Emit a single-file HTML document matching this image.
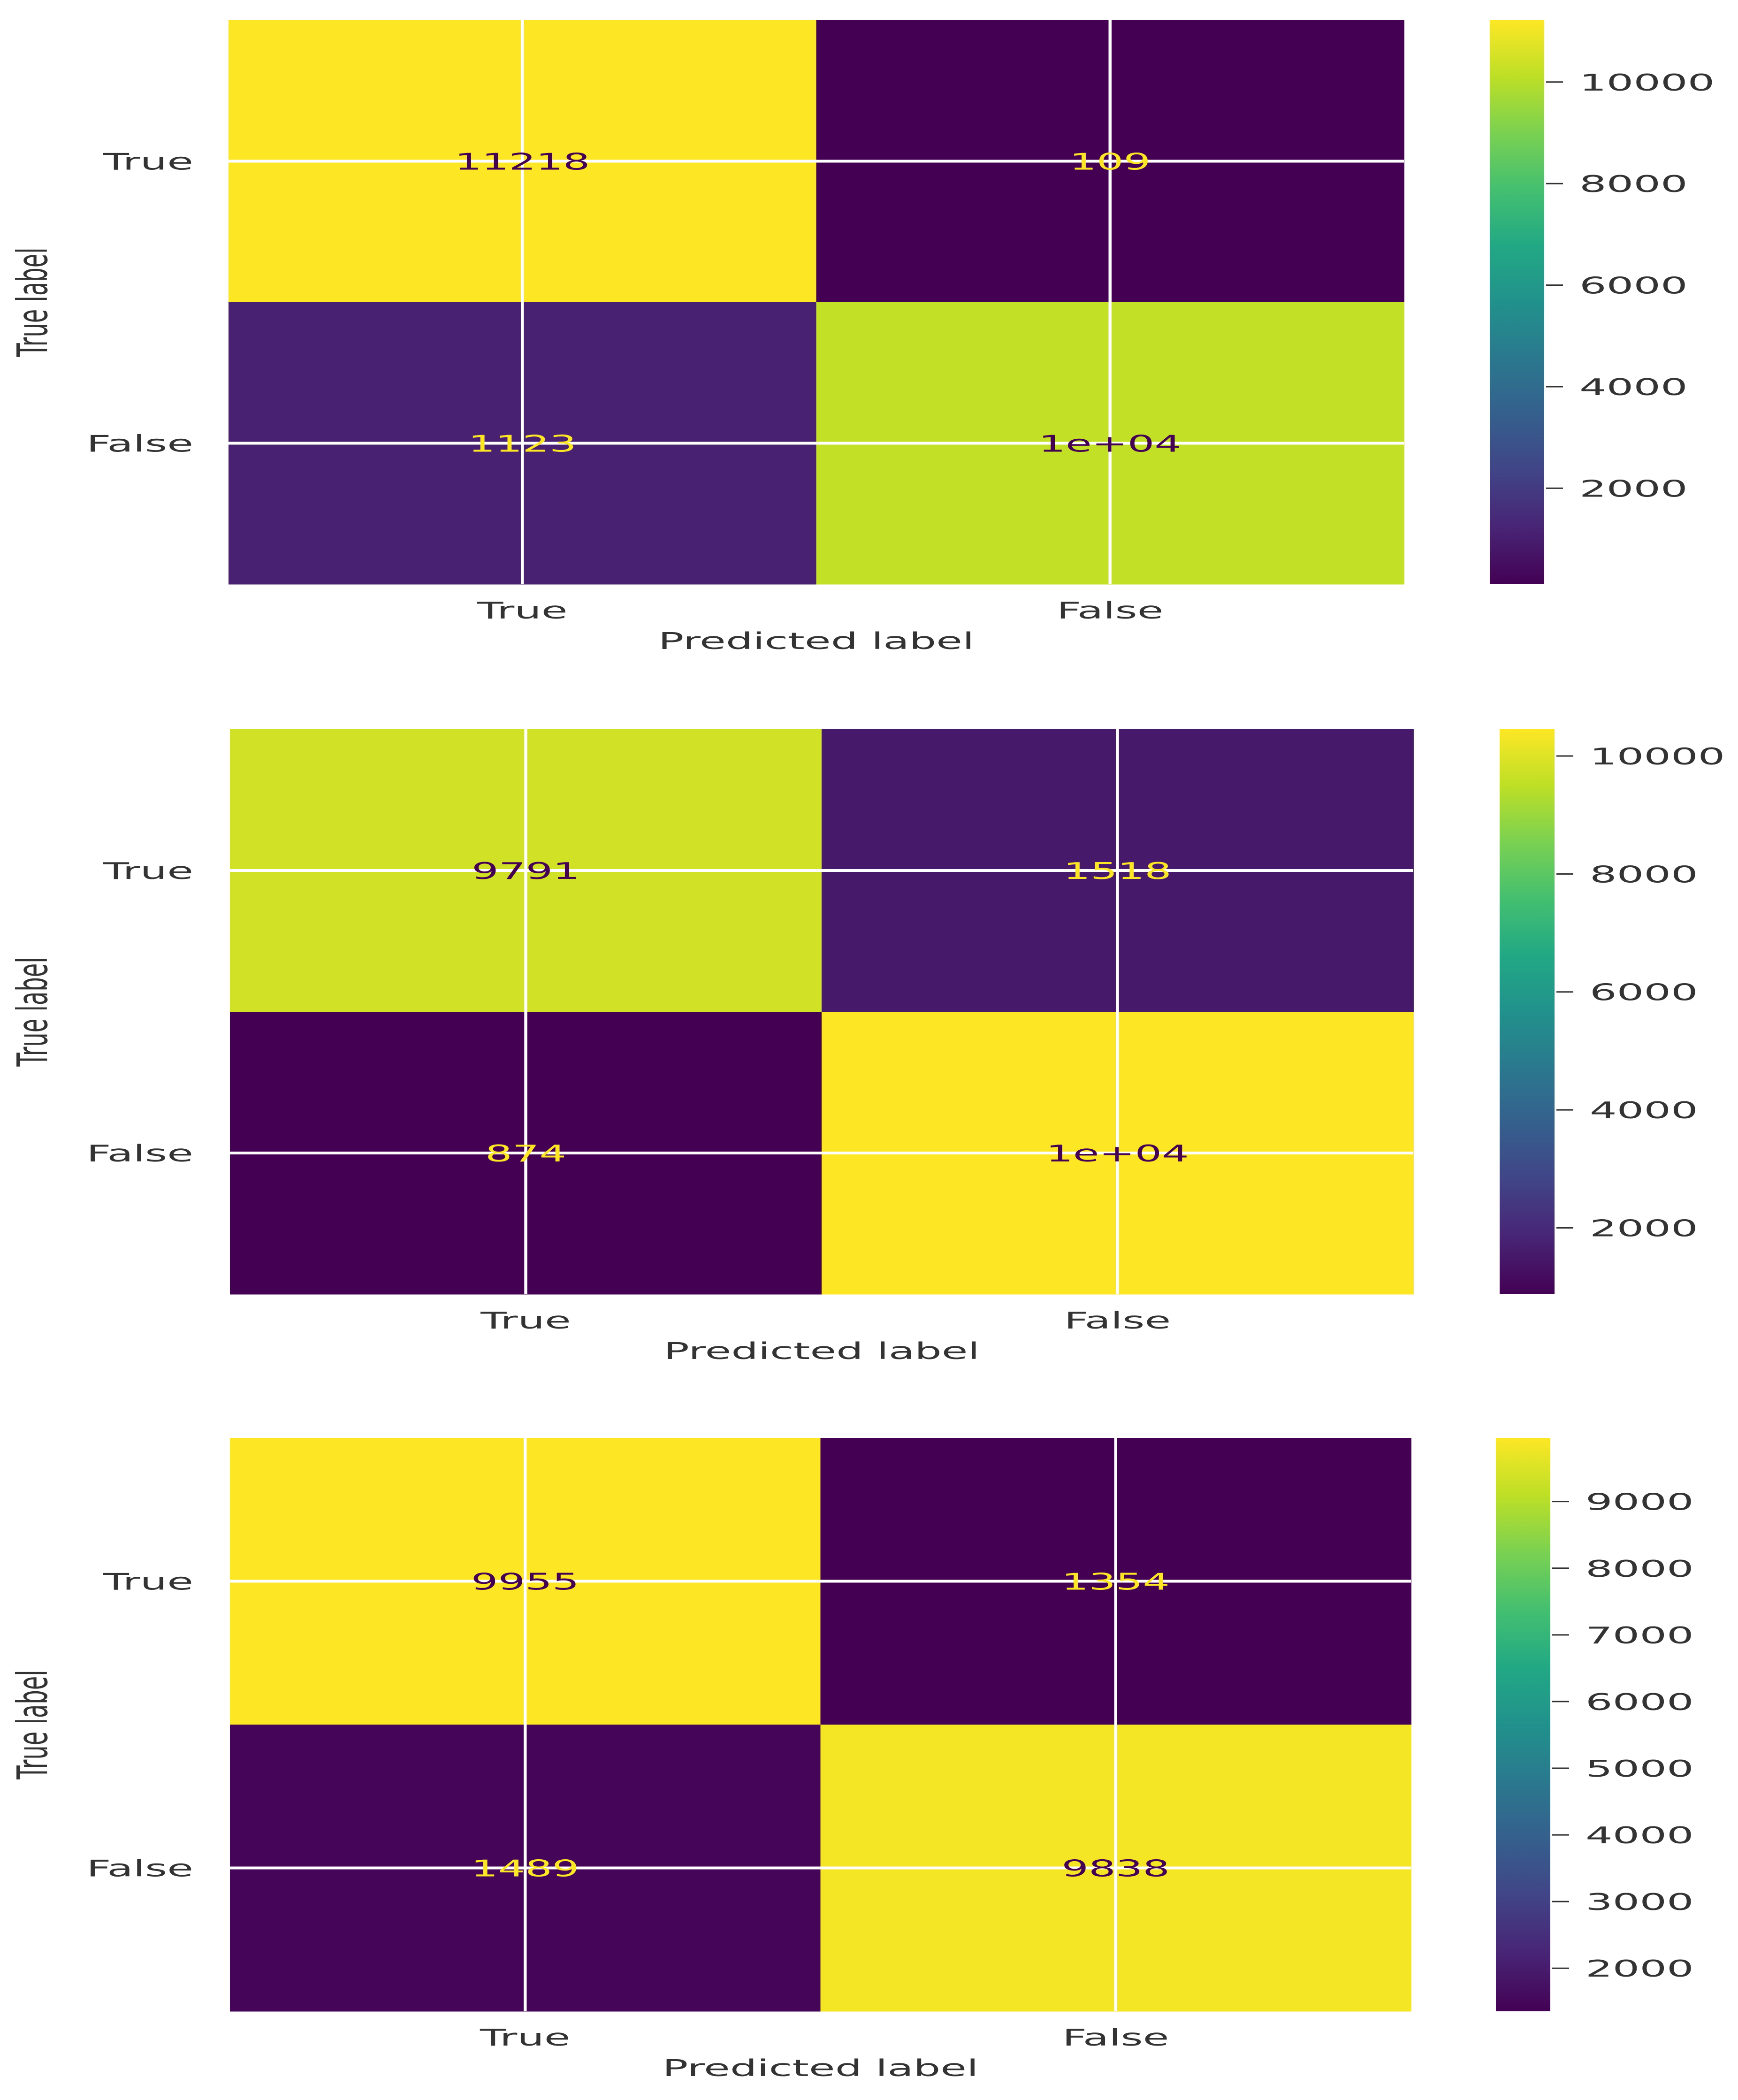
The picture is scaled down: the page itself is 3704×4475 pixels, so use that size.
<!DOCTYPE html>
<html><head><meta charset="utf-8"><style>
html,body{margin:0;padding:0;background:#fff;}
svg{display:block;}
text{font-family:"DejaVu Sans","Liberation Sans",sans-serif;}
</style></head>
<body>
<svg id="fig" width="3704" height="4475" viewBox="0 0 3704 4475" xmlns="http://www.w3.org/2000/svg">
<rect width="3704" height="4475" fill="#ffffff"/>
<g id="root" transform="scale(1.85,1)"></g>
</svg>
<script>
// ---- data ----
const classLabels = ["True", "False"];
const matrix1 = [[11218, 109], [1123, 10186]];
const matrix1Text = [["11218", "109"], ["1123", "1e+04"]];
const matrix2 = [[9791, 1518], [874, 10453]];
const matrix2Text = [["9791", "1518"], ["874", "1e+04"]];
const matrix3 = [[9955, 1354], [1489, 9838]];
const matrix3Text = [["9955", "1354"], ["1489", "9838"]];
const ticks1 = [2000, 4000, 6000, 8000, 10000];
const ticks2 = [2000, 4000, 6000, 8000, 10000];
const ticks3 = [2000, 3000, 4000, 5000, 6000, 7000, 8000, 9000];

const SX = 1.85;
const NS = "http://www.w3.org/2000/svg";
const root = document.getElementById("root");
const vir = ["#440154","#482475","#414487","#355f8d","#2a788e","#21918c","#22a884","#44bf70","#7ad151","#bddf26","#fde725"];
function hex(c){return [1,3,5].map(i=>parseInt(c.substr(i,2),16));}
function viridis(t){
  t=Math.max(0,Math.min(1,t));
  const p=t*10, i=Math.min(9,Math.floor(p)), f=p-i;
  const a=hex(vir[i]), b=hex(vir[i+1]);
  return "rgb("+a.map((v,k)=>Math.round(v+(b[k]-v)*f)).join(",")+")";
}
function mk(tag, attrs, parent){
  const e=document.createElementNS(NS,tag);
  for(const k in attrs) e.setAttribute(k, attrs[k]);
  (parent||root).appendChild(e);
  return e;
}
function X(v){return v/SX;}

const panels = [
  {m:matrix1, t:matrix1Text, ticks:ticks1, hx0:487, hx1:2992, hy0:43, hy1:1245, cx0:3175, cx1:3291},
  {m:matrix2, t:matrix2Text, ticks:ticks2, hx0:490, hx1:3012, hy0:1554, hy1:2758, cx0:3196, cx1:3313},
  {m:matrix3, t:matrix3Text, ticks:ticks3, hx0:490, hx1:3007, hy0:3064, hy1:4286, cx0:3188, cx1:3304}
];

panels.forEach((P, pi) => {
  const g = mk("g", {});
  
  
  const flat = P.m.flat();
  const vmin = Math.min(...flat), vmax = Math.max(...flat);
  const norm = v => (v - vmin) / (vmax - vmin);
  const cw = (P.hx1 - P.hx0) / 2, ch = (P.hy1 - P.hy0) / 2;
  const colX = j => P.hx0 + cw * (j + 0.5);
  const rowY = i => P.hy0 + ch * (i + 0.5);
  for (let i = 0; i < 2; i++) for (let j = 0; j < 2; j++) {
    const r = mk("rect", {x:X(P.hx0 + cw*j), y:P.hy0 + ch*i, width:X(cw)+0.5, height:ch+0.5, fill:viridis(norm(P.m[i][j]))}, g);
    
    
  }
  for (let k = 0; k < 2; k++) {
    const vl = mk("line", {x1:X(colX(k)), x2:X(colX(k)), y1:P.hy0, y2:P.hy1, stroke:"#ffffff", "stroke-width":3.5}, g);
    
    
    const hl = mk("line", {x1:X(P.hx0), x2:X(P.hx1), y1:rowY(k), y2:rowY(k), stroke:"#ffffff", "stroke-width":6}, g);
    
    
  }
  const thresh = (vmax + vmin) / 2;
  for (let i = 0; i < 2; i++) for (let j = 0; j < 2; j++) {
    const tx = mk("text", {x:X(colX(j)), y:rowY(i)+18, "text-anchor":"middle", "font-size":49, fill:P.m[i][j] < thresh ? "#fde725" : "#440154"}, g);
    tx.textContent = P.t[i][j];
    
    
  }
  for (let i = 0; i < 2; i++) {
    const tx = mk("text", {x:X(412), y:rowY(i)+18, "text-anchor":"end", "font-size":49, fill:"#333333"}, g);
    tx.textContent = classLabels[i];
    
    
  }
  for (let j = 0; j < 2; j++) {
    const tx = mk("text", {x:X(colX(j)), y:P.hy1+73, "text-anchor":"middle", "font-size":49, fill:"#333333"}, g);
    tx.textContent = classLabels[j];
    
    
  }
  const xl = mk("text", {x:X((P.hx0+P.hx1)/2), y:P.hy1+138, "text-anchor":"middle", "font-size":49, fill:"#333333"}, g);
  xl.textContent = "Predicted label";
  
  
  const cy = (P.hy0+P.hy1)/2;
  const yl = mk("text", {x:0, y:0, "text-anchor":"middle", "font-size":48, fill:"#333333", transform:"translate("+X(100)+","+cy+") rotate(-90)"}, g);
  yl.textContent = "True label";
  
  
  const gid = "grad" + pi;
  const defs = mk("defs", {}, g);
  const lg = mk("linearGradient", {id:gid, x1:0, y1:1, x2:0, y2:0}, defs);
  for (let s = 0; s <= 20; s++) mk("stop", {offset:s/20, "stop-color":viridis(s/20)}, lg);
  const cb = mk("rect", {x:X(P.cx0), y:P.hy0, width:X(P.cx1-P.cx0), height:P.hy1-P.hy0, fill:"url(#"+gid+")"}, g);
  
  
  const cbY = v => P.hy0 + (vmax - v) / (vmax - vmin) * (P.hy1 - P.hy0);
  P.ticks.forEach(tv => {
    const y = cbY(tv);
    const tk = mk("line", {x1:X(P.cx1+4), x2:X(P.cx1+40), y1:y, y2:y, stroke:"#333333", "stroke-width":3}, g);
    
    
    const tl = mk("text", {x:X(P.cx1+75), y:y+18, "font-size":49, fill:"#333333"}, g);
    tl.textContent = String(tv);
    
    
  });
});
</script>
</body></html>
